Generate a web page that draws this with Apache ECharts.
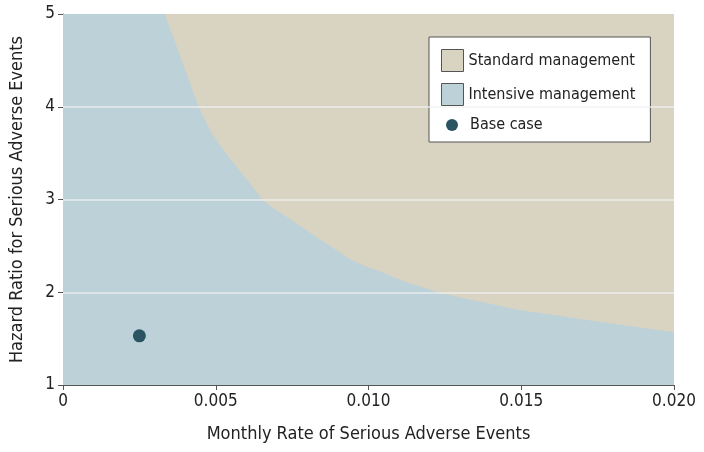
<!DOCTYPE html>
<html>
<head>
<meta charset="utf-8">
<script src="https://cdn.jsdelivr.net/npm/echarts@6/dist/echarts.min.js"></script>
<style>
  html, body { margin: 0; padding: 0; background: #fff; }
  #main { width: 704px; height: 452px; }
</style>
</head>
<body>
<div id="main"></div>
<script>
// boundary between the two strategies (x = monthly rate, y = hazard ratio)
var boundaryX = [0, 0.00333, 0.00444, 0.00486, 0.00525, 0.00568, 0.00610, 0.00649, 0.00682, 0.00747, 0.00845, 0.00943, 0.00998, 0.01041, 0.01106, 0.01237, 0.01488, 0.01759, 0.020];
var boundaryY = [5, 5, 4.0, 3.72, 3.53, 3.35, 3.18, 3.01, 2.92, 2.78, 2.56, 2.35, 2.27, 2.22, 2.13, 1.99, 1.81, 1.68, 1.57];
var standardX = [0, 0.020];
var standardY = [5, 5];
var baseCase = [0.0025, 1.53];
var gridLinesY = [2, 3, 4];

var FONT = '"DejaVu Sans Condensed", "Liberation Sans Narrow", sans-serif';
var TAN = '#d9d3c2';
var BLUE = '#bdd1d9';
var DOT = '#2b5463';

var chart = echarts.init(document.getElementById('main'));

var intensiveData = boundaryX.map(function (x, i) { return [x, boundaryY[i]]; });
var standardData = standardX.map(function (x, i) { return [x, standardY[i]]; });

var option = {
  animation: false,
  backgroundColor: '#fff',
  textStyle: { fontFamily: FONT },
  grid: { left: 61, right: 30, top: 14, bottom: 67 },
  legend: [
    {
      orient: 'vertical',
      left: 429,
      top: 37,
      itemWidth: 22,
      itemHeight: 22,
      itemGap: 11,
      padding: [12, 15, 36, 12],
      backgroundColor: '#fff',
      borderColor: '#555',
      borderWidth: 1,
      textStyle: { fontFamily: FONT, fontSize: 16, color: '#222' },
      data: [
        { name: 'Standard management', icon: 'rect', itemStyle: { color: TAN, borderColor: '#555', borderWidth: 1 } },
        { name: 'Intensive management', icon: 'rect', itemStyle: { color: BLUE, borderColor: '#555', borderWidth: 1 } }
      ]
    },
    {
      orient: 'vertical',
      left: 446,
      top: 117,
      itemWidth: 12,
      itemHeight: 12,
      padding: 0,
      textStyle: { fontFamily: FONT, fontSize: 16, color: '#222', padding: [0, 0, 0, 7] },
      data: [{ name: 'Base case', icon: 'circle', itemStyle: { color: DOT, opacity: 1 } }]
    }
  ],
  xAxis: {
    type: 'value',
    min: 0,
    max: 0.02,
    interval: 0.005,
    name: 'Monthly Rate of Serious Adverse Events',
    nameLocation: 'middle',
    nameGap: 40,
    nameTextStyle: { fontFamily: FONT, fontSize: 18, color: '#222' },
    axisLine: { show: true, lineStyle: { color: '#555', width: 1 } },
    axisTick: { show: true, length: 5, lineStyle: { color: '#555' } },
    axisLabel: {
      fontFamily: FONT, fontSize: 17, color: '#222', margin: 8,
      formatter: function (v) { return v === 0 ? '0' : v.toFixed(3); }
    },
    splitLine: { show: false }
  },
  yAxis: {
    type: 'value',
    min: 1,
    max: 5,
    interval: 1,
    name: 'Hazard Ratio for Serious Adverse Events',
    nameLocation: 'middle',
    nameGap: 37,
    nameTextStyle: { fontFamily: FONT, fontSize: 18, color: '#222' },
    axisLine: { show: true, lineStyle: { color: '#555', width: 1 } },
    axisTick: { show: true, length: 5, lineStyle: { color: '#555' } },
    axisLabel: { fontFamily: FONT, fontSize: 17, color: '#222', margin: 8 },
    splitLine: { show: false }
  },
  series: [
    {
      name: 'Standard management',
      type: 'line',
      data: standardData,
      showSymbol: false,
      lineStyle: { width: 0 },
      itemStyle: { color: TAN },
      areaStyle: { color: TAN, opacity: 1, origin: 'start' },
      z: 1
    },
    {
      name: 'Intensive management',
      type: 'line',
      data: intensiveData,
      showSymbol: false,
      lineStyle: { width: 0 },
      itemStyle: { color: BLUE },
      areaStyle: { color: BLUE, opacity: 1, origin: 'start' },
      z: 2,
      markLine: {
        silent: true,
        symbol: ['none', 'none'],
        label: { show: false },
        lineStyle: { color: 'rgba(240,240,240,0.85)', width: 1.5, type: 'solid' },
        data: gridLinesY.map(function (v) { return { yAxis: v }; })
      }
    },
    {
      name: 'Base case',
      type: 'scatter',
      data: [baseCase],
      symbolSize: 13,
      itemStyle: { color: DOT, opacity: 1 },
      z: 5
    }
  ]
};

chart.setOption(option);
</script>
</body>
</html>
